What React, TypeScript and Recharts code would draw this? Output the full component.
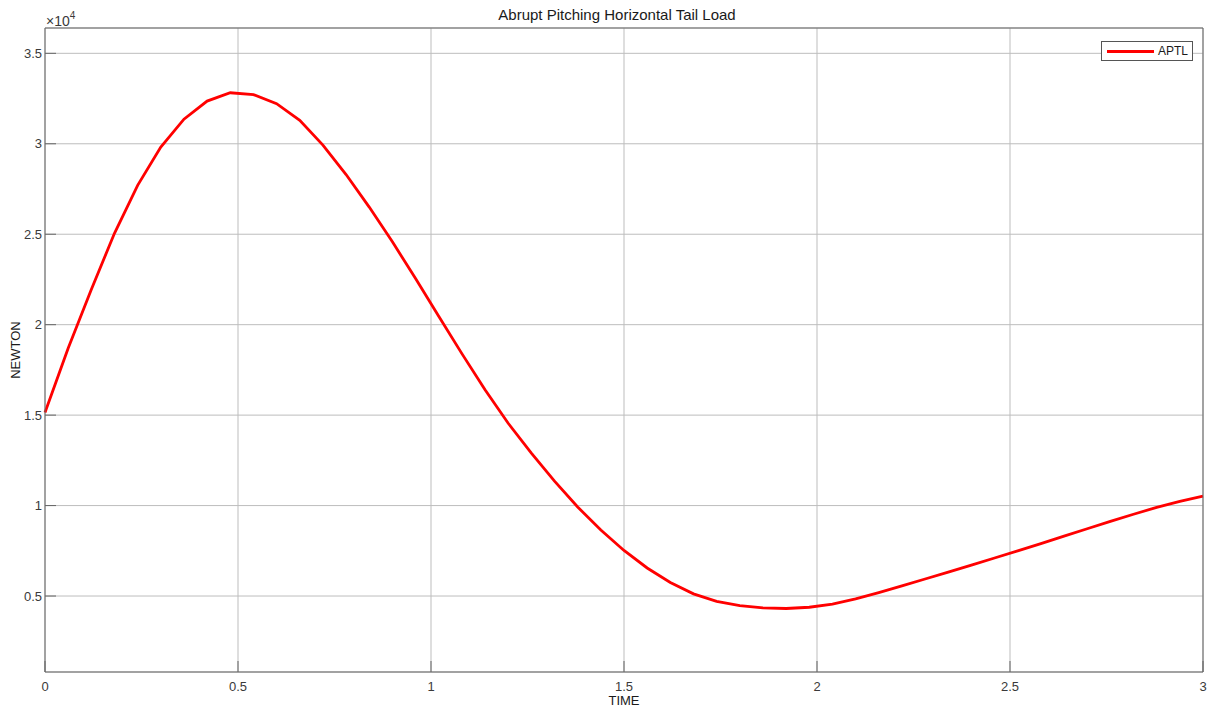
import { LineChart, Line, XAxis, YAxis, CartesianGrid } from 'recharts'

// time samples (s)
const TIME = [
  0, 0.06, 0.12, 0.18, 0.24, 0.3, 0.36, 0.42, 0.48, 0.54,
  0.6, 0.66, 0.72, 0.78, 0.84, 0.9, 0.96, 1.02, 1.08, 1.14,
  1.2, 1.26, 1.32, 1.38, 1.44, 1.5, 1.56, 1.62, 1.68, 1.74,
  1.8, 1.86, 1.92, 1.98, 2.04, 2.1, 2.16, 2.22, 2.28, 2.34,
  2.4, 2.46, 2.52, 2.58, 2.64, 2.7, 2.76, 2.82, 2.88, 2.94, 3,
]

// APTL load (N)
const APTL = [
  15150, 18700, 21950, 25050, 27700, 29820, 31360, 32360, 32820, 32720,
  32220, 31300, 29930, 28300, 26500, 24580, 22550, 20470, 18400, 16400,
  14550, 12900, 11350, 9920, 8650, 7520, 6550, 5750, 5120, 4700,
  4470, 4350, 4310, 4380, 4550, 4840, 5190, 5560, 5940, 6320,
  6710, 7100, 7500, 7900, 8310, 8720, 9130, 9520, 9900, 10230, 10520,
]

const X_TICKS = [0, 0.5, 1, 1.5, 2, 2.5, 3]
const Y_TICKS = [5000, 10000, 15000, 20000, 25000, 30000, 35000]

const rows = TIME.map((t, i) => ({ t, aptl: APTL[i] }))

const font = '"Liberation Sans", Arial, Helvetica, sans-serif'
const axisColor = '#666'
const tickStyle = { fontSize: 13, fill: '#3a3a3a', fontFamily: font }

export default function App() {
  return (
    <div style={{ position: 'relative', width: 1208, height: 711, background: '#fff', fontFamily: font }}>
      <style>{'body{margin:0}'}</style>
      <LineChart width={1208} height={711} data={rows} margin={{ top: 0, right: 0, bottom: 0, left: 0 }}>
        <CartesianGrid stroke="#bdbdbd" />
        <XAxis dataKey="t" type="number" domain={[0, 3]} ticks={X_TICKS} height={39}
          stroke={axisColor} tickSize={-11} tickMargin={21} tick={tickStyle}
          tickFormatter={v => String(v)} />
        <XAxis xAxisId="top" orientation="top" dataKey="t" type="number" domain={[0, 3]} ticks={X_TICKS}
          height={28} stroke={axisColor} tickSize={-11} tick={false} />
        <YAxis type="number" domain={[800, 36400]} ticks={Y_TICKS} width={45} allowDataOverflow
          stroke={axisColor} tickSize={-11} tickMargin={14} tick={tickStyle}
          tickFormatter={v => String(Number(v) / 10000)} />
        <YAxis yAxisId="right" orientation="right" type="number" domain={[800, 36400]} ticks={Y_TICKS}
          width={5} allowDataOverflow stroke={axisColor} tickSize={-11} tick={false} />
        <Line dataKey="aptl" stroke="#ff0000" strokeWidth={2.8} dot={false} type="linear" isAnimationActive={false} />
        <Line dataKey="aptl" xAxisId="top" yAxisId="right" stroke="none" dot={false} legendType="none"
          isAnimationActive={false} />
      </LineChart>

      <div style={{ position: 'absolute', left: 417, top: 6, width: 400, textAlign: 'center', fontSize: 15, color: '#1a1a1a' }}>
        Abrupt Pitching Horizontal Tail Load
      </div>
      <div style={{ position: 'absolute', left: 46, top: 9, fontSize: 14, lineHeight: '16px', color: '#3a3a3a' }}>
        ×10<sup style={{ fontSize: 10, position: 'relative', top: -1 }}>4</sup>
      </div>
      <div style={{ position: 'absolute', left: 15, top: 350, fontSize: 13, color: '#1a1a1a',
        transform: 'translate(-50%, -50%) rotate(-90deg)', whiteSpace: 'nowrap' }}>
        NEWTON
      </div>
      <div style={{ position: 'absolute', left: 624, top: 693, transform: 'translateX(-50%)', fontSize: 13, color: '#1a1a1a' }}>
        TIME
      </div>

      <div style={{ position: 'absolute', left: 1101, top: 41, width: 90, height: 18, border: '1px solid #555',
        background: '#fff', display: 'flex', alignItems: 'center' }}>
        <div style={{ marginLeft: 5, width: 47, height: 3, background: '#ff0000' }} />
        <span style={{ marginLeft: 4, fontSize: 12, color: '#1a1a1a' }}>APTL</span>
      </div>
    </div>
  )
}
